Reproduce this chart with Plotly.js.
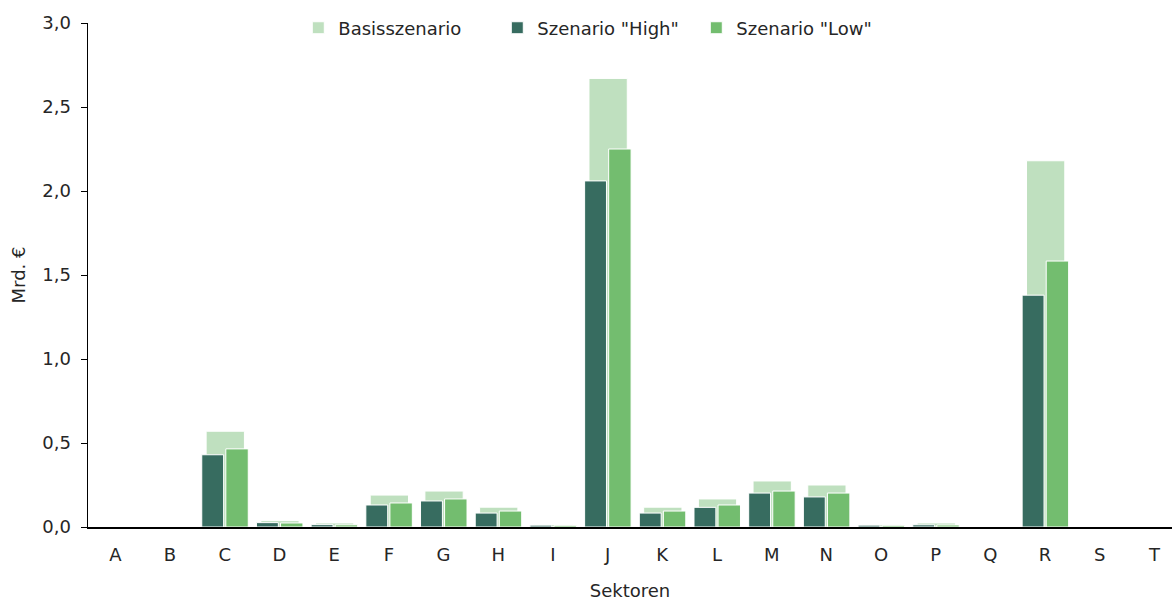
<!DOCTYPE html>
<html>
<head>
<meta charset="utf-8">
<script src="https://cdn.plot.ly/plotly-3.0.1.min.js"></script>
<style>html,body{margin:0;padding:0;background:#fff;}#chart{width:1172px;height:601px;}</style>
</head>
<body>
<div id="chart"></div>
<script>
const sectors = ["A","B","C","D","E","F","G","H","I","J","K","L","M","N","O","P","Q","R","S","T"];
const basis   = [0, 0, 0.57, 0.038, 0.024, 0.19, 0.214, 0.118, 0.015, 2.67, 0.118, 0.167, 0.274, 0.25, 0.014, 0.024, 0, 2.18, 0, 0];
const high    = [0, 0, 0.43, 0.026, 0.014, 0.131, 0.155, 0.083, 0.011, 2.06, 0.083, 0.117, 0.202, 0.179, 0.011, 0.013, 0, 1.38, 0, 0];
const low     = [0, 0, 0.465, 0.024, 0.013, 0.143, 0.167, 0.095, 0.010, 2.25, 0.095, 0.131, 0.214, 0.202, 0.010, 0.012, 0, 1.583, 0, 0];
const seriesNames = ["Basisszenario", "Szenario \"High\"", "Szenario \"Low\""];

const font = "DejaVu Sans, sans-serif";
const data = [
  {type:"bar", name:seriesNames[0], x:sectors, y:basis, width:0.70, offset:-0.34,
   marker:{color:"#bfe0bf", line:{color:"#ffffff", width:1}}},
  {type:"bar", name:seriesNames[1], x:sectors, y:high, width:0.40, offset:-0.42,
   marker:{color:"#376c60", line:{color:"#ffffff", width:1}}},
  {type:"bar", name:seriesNames[2], x:sectors, y:low, width:0.41, offset:0.02,
   marker:{color:"#73bd6f", line:{color:"#ffffff", width:1}}}
];
const layout = {
  width:1172, height:601,
  margin:{l:88, r:0, t:23, b:74},
  barmode:"overlay",
  separators:",.",
  paper_bgcolor:"#fff", plot_bgcolor:"#fff",
  font:{family:font, size:16, color:"#262626"},
  showlegend:true,
  legend:{orientation:"h", x:0.194, xanchor:"left", y:0.99, yanchor:"middle",
          entrywidth:154, entrywidthmode:"pixels",
          font:{family:font, size:18, color:"#262626"}, bgcolor:"rgba(0,0,0,0)", itemwidth:30},
  xaxis:{type:"category", range:[-0.5, 19.32], showline:true, linecolor:"#000", linewidth:2,
         ticks:"", showgrid:false, zeroline:false, tickfont:{size:18}, ticklabelstandoff:10,
         title:{text:"Sektoren", font:{size:18}, standoff:21}},
  yaxis:{range:[0,3], dtick:0.5, tickformat:".1f", showline:true, linecolor:"#000", linewidth:1.5,
         ticks:"outside", ticklen:6, tickcolor:"#000", showgrid:false, zeroline:false,
         tickfont:{size:18}, ticklabelstandoff:6, title:{text:"Mrd. €", font:{size:18}, standoff:12}}
};
Plotly.newPlot("chart", data, layout, {displayModeBar:false, staticPlot:true});
</script>
</body>
</html>
